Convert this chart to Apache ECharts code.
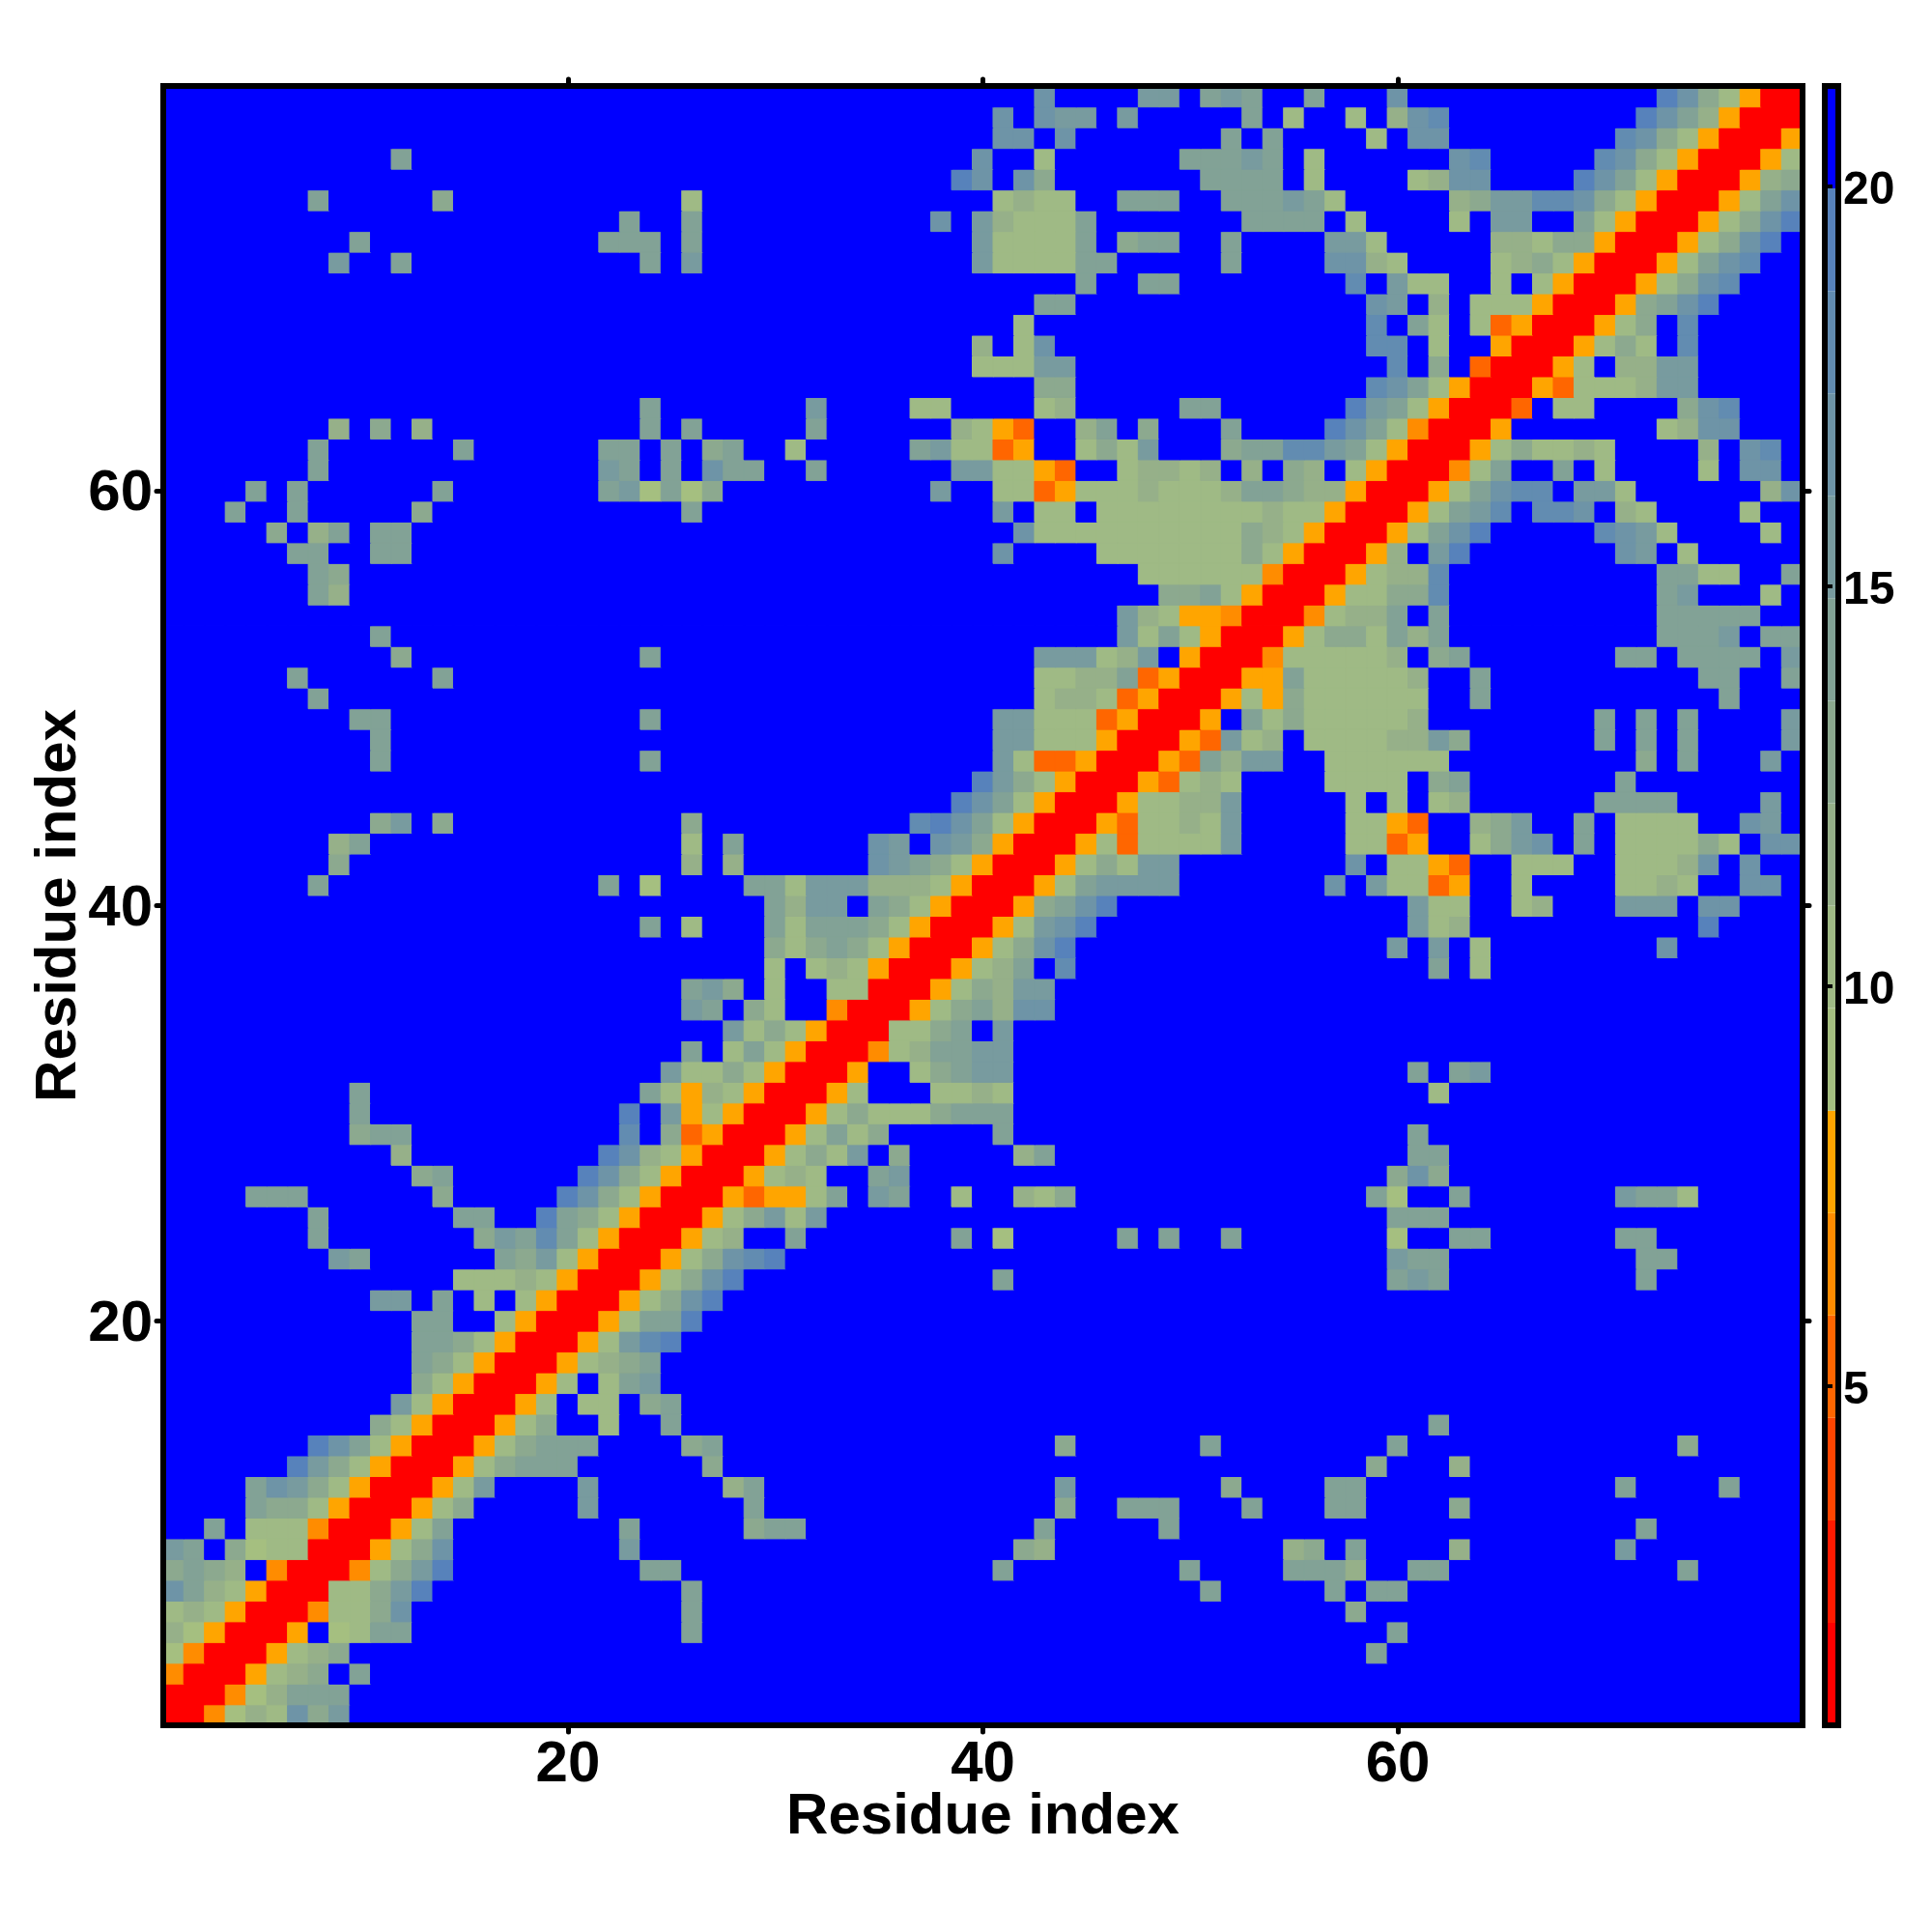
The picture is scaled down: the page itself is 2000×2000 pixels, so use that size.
<!DOCTYPE html>
<html>
<head>
<meta charset="utf-8">
<style>html,body{margin:0;padding:0;background:#fff}#c{width:2000px;height:2000px}</style>
<script src="https://cdn.jsdelivr.net/npm/echarts@6/dist/echarts.min.js"></script>
</head>
<body>
<div id="c"></div>
<script>
// Colour scale: 16 equal classes of residue distance
const scaleMin = 0.76;
const scaleStep = 1.281;
const levelColors = ['#ff0000','#ff1a00','#ff4500','#ff6600','#ff8c00','#ffa500','#a5bf80','#9fba85','#96b089','#8ca98f','#82a296','#789b9f','#6e94a7','#628cb1','#5782bb','#0000ff'];
// code letter of each class, in the same order
const levelCodes = '123456789abcdef.';
const residueCount = 79;
const tickResidues = [20, 40, 60];
const barTicks = [5, 10, 15, 20];
const axisTitle = 'Residue index';

// Upper triangle: [row, first column, class codes]
const upperTriangle = [
[1,1,'115798dac'],
[2,2,'11579bbb'],
[3,3,'11689a.b'],
[4,4,'11689a'],[4,59,'b'],
[5,5,'116.78bb'],[5,26,'b'],[5,60,'b'],
[6,6,'11588ad'],[6,26,'b'],[6,58,'a'],
[7,7,'1188acf'],[7,26,'b'],[7,51,'b'],[7,57,'b'],[7,59,'bb'],
[8,8,'1158acf'],[8,24,'bb'],[8,41,'b'],[8,50,'b'],[8,55,'bbb9'],[8,61,'bb'],[8,74,'b'],
[9,9,'1168ad'],[9,23,'c'],[9,42,'a9'],[9,55,'9a'],[9,58,'b'],[9,63,'9'],[9,71,'c'],
[10,10,'1168b'],[10,23,'b'],[10,29,'abb'],[10,43,'b'],[10,49,'b'],[10,72,'b'],
[11,11,'1168a'],[11,21,'c'],[11,29,'b'],[11,44,'a'],[11,47,'bbb'],[11,53,'b'],[11,57,'bb'],[11,63,'a'],
[12,12,'1168c'],[12,21,'c'],[12,28,'9b'],[12,44,'c'],[12,52,'a'],[12,57,'bb'],[12,71,'b'],[12,76,'b'],
[13,13,'1168abbb'],[13,27,'a'],[13,59,'a'],[13,63,'9'],
[14,14,'1168abbb'],[14,26,'ab'],[14,44,'a'],[14,51,'b'],[14,60,'b'],[14,74,'a'],
[15,15,'1168a..8..b'],[15,62,'b'],
[16,16,'1168.88.ab'],
[17,17,'1168.8bc'],
[18,18,'11689ab'],
[19,19,'1168cef'],
[20,20,'1168bbf'],
[21,21,'1168adf'],
[22,22,'1168adf'],[22,41,'b'],[22,60,'bcb'],[22,72,'b'],
[23,23,'1168adef'],[23,60,'cbb'],[23,72,'bb'],
[24,24,'11689..b'],[24,39,'b'],[24,41,'7'],[24,47,'b'],[24,49,'b'],[24,52,'b'],[24,60,'7'],[24,63,'bb'],[24,71,'bb'],
[25,25,'1168ac8c'],[25,60,'bbb'],
[26,26,'1164668b.cb'],[26,39,'8'],[26,42,'98a'],[26,59,'b7'],[26,63,'b'],[26,71,'cbb8'],
[27,27,'116898..bc'],[27,60,'ada'],
[28,28,'1168a8c.a'],[28,42,'9b'],[28,61,'bb'],
[29,29,'1168b8a'],[29,41,'b'],[29,61,'b'],
[30,30,'1168a888abbb'],
[31,31,'1168...8898'],[31,62,'8'],
[32,32,'116..8abcc'],[32,61,'b'],[32,63,'bc'],
[33,33,'11589bbcc'],
[34,34,'1188ab.c'],
[35,35,'1168ab9dd'],
[36,36,'1168a9cc'],
[37,37,'11689b.e'],[37,62,'b'],[37,64,'8'],
[38,38,'1168adf'],[38,60,'c'],[38,62,'c'],[38,64,'8'],[38,73,'d'],
[39,39,'1168cdf'],[39,61,'c89'],[39,75,'f'],
[40,40,'116abdf'],[40,61,'c88'],[40,66,'89'],[40,71,'ccc'],[40,75,'dd'],
[41,41,'1168bcccc'],[41,57,'d'],[41,59,'c8846'],[41,66,'8'],[41,71,'8898'],[41,77,'dd'],
[42,42,'1168a8cc'],[42,58,'d'],[42,60,'8864'],[42,66,'888'],[42,71,'8889d'],[42,77,'d'],
[43,43,'116848888c'],[43,58,'8846'],[43,64,'8acd'],[43,69,'b'],[43,71,'8888a8'],[43,78,'dd'],
[44,44,'11648898c'],[44,58,'8864'],[44,64,'9ac'],[44,69,'b'],[44,71,'8888'],[44,77,'dc'],
[45,45,'1168899c'],[45,58,'8'],[45,60,'8'],[45,62,'89'],[45,70,'bbbb'],[45,78,'c'],
[46,46,'1164898'],[46,57,'8888'],[46,62,'ab'],[46,71,'b'],
[47,47,'1164b9cc'],[47,57,'888888'],[47,72,'a'],[47,74,'b'],[47,78,'c'],
[48,48,'1164c89'],[48,56,'888899ca'],[48,70,'b'],[48,72,'b'],[48,74,'b'],[48,79,'c'],
[49,49,'116.b8a888889'],[49,70,'b'],[49,72,'b'],[49,74,'b'],[49,79,'c'],
[50,50,'11686a888888'],[50,64,'b'],[50,76,'b'],
[51,51,'1166b888889'],[51,64,'b'],[51,75,'bb'],[51,79,'b'],
[52,52,'115888889.ab'],[52,71,'bb'],[52,74,'bbbb'],[52,79,'c'],
[53,53,'1168aa8b9b'],[53,73,'bbbc'],[53,78,'bb'],
[54,54,'115899b.b'],[54,73,'bbbbb'],
[55,55,'11688aae'],[55,73,'bc'],[55,78,'8'],
[56,56,'116899e'],[56,73,'bb88'],[56,79,'b'],
[57,57,'1169.cf'],[57,71,'dc'],[57,74,'8'],
[58,58,'1168bdf'],[58,70,'edc8'],[58,78,'8'],
[59,59,'1168bce'],[59,67,'eed'],[59,71,'98'],[59,77,'8'],
[60,60,'1168bdee'],[60,69,'cc8'],[60,78,'9d'],
[61,61,'1158b'],[61,68,'b'],[61,70,'8'],[61,75,'8'],[61,77,'dd'],
[62,62,'1168a8898'],[62,75,'9'],[62,77,'de'],
[63,63,'116'],[63,73,'89dd'],
[64,64,'114'],[64,68,'88'],[64,74,'ade'],
[65,65,'11648889cc'],
[66,66,'1168.99cc'],
[67,67,'1168a8.e'],
[68,68,'1168a.e'],
[69,69,'116abdf'],
[70,70,'1168ade'],
[71,71,'1168bde'],
[72,72,'1168adf'],
[73,73,'1168adf'],
[74,74,'1168bd'],
[75,75,'1169a'],
[76,76,'1168'],
[77,77,'116'],
[78,78,'11'],
[79,79,'1']
];

// Each class stands for the mid value of its step on the colour bar
const levelValue = i => scaleMin + scaleStep * (i + 0.5);
const categories = Array.from({length: residueCount}, (_, i) => String(i + 1));

// Start every cell at the top class (blue), then apply the read rows and mirror them
const blueClass = levelCodes.length - 1;
const matrix = Array.from({length: residueCount}, () => new Array(residueCount).fill(blueClass));
upperTriangle.forEach(([row, first, codes]) => {
  [...codes].forEach((ch, k) => {
    const col = first + k;
    const cls = levelCodes.indexOf(ch);
    matrix[row - 1][col - 1] = cls;
    matrix[col - 1][row - 1] = cls;
  });
});
const cells = [];
matrix.forEach((r, y) => r.forEach((cls, x) => cells.push({
  value: [x, y, levelValue(cls)],
  itemStyle: {borderColor: levelColors[cls], borderWidth: 1}
})));

const pieces = levelColors.map((color, i) => ({
  gte: scaleMin + scaleStep * i,
  lt: scaleMin + scaleStep * (i + 1),
  color
}));
const barLevels = levelColors.map((color, i) => ({
  value: [0, scaleMin + scaleStep * i, scaleMin + scaleStep * (i + 1)],
  itemStyle: {color}
}));

const FONT = '"Liberation Sans", Arial, sans-serif';
const tickFilter = (i) => tickResidues.includes(i + 1);
const frame = () => ({show: true, onZero: false, lineStyle: {color: '#000', width: 6, cap: 'square'}});
const tick = () => ({show: true, alignWithLabel: true, interval: tickFilter, length: 7, lineStyle: {color: '#000', width: 5, cap: 'round'}});
const barMax = scaleMin + scaleStep * levelColors.length;

const chart = echarts.init(document.getElementById('c'), null, {renderer: 'canvas'});
chart.setOption({
  animation: false,
  backgroundColor: '#fff',
  grid: [
    {left: 169, top: 89, width: 1697, height: 1697, outerBoundsMode: 'none'},
    {left: 1889, top: 89, width: 14, height: 1697, outerBoundsMode: 'none'}
  ],
  visualMap: {show: false, type: 'piecewise', seriesIndex: 0, dimension: 2, pieces},
  xAxis: [
    {type: 'category', data: categories, gridIndex: 0, position: 'bottom', z: 10,
     axisLine: frame(), axisTick: tick(),
     axisLabel: {show: true, interval: tickFilter, color: '#000', fontFamily: FONT, fontWeight: 'bold', fontSize: 60, margin: 11},
     name: axisTitle, nameLocation: 'middle', nameGap: 65, nameMoveOverlap: false,
     nameTextStyle: {color: '#000', fontFamily: FONT, fontWeight: 'bold', fontSize: 60},
     splitLine: {show: false}},
    {type: 'category', data: categories, gridIndex: 0, position: 'top', z: 10,
     axisLine: frame(), axisTick: tick(),
     axisLabel: {show: false}, splitLine: {show: false}},
    {type: 'value', gridIndex: 1, min: 0, max: 1, show: false}
  ],
  yAxis: [
    {type: 'category', data: categories, gridIndex: 0, position: 'left', z: 10,
     axisLine: frame(), axisTick: tick(),
     axisLabel: {show: true, interval: tickFilter, color: '#000', fontFamily: FONT, fontWeight: 'bold', fontSize: 60, margin: 11, verticalAlign: 'top', lineHeight: 8},
     name: axisTitle, nameLocation: 'middle', nameGap: 78, nameRotate: 90, nameMoveOverlap: false,
     nameTextStyle: {color: '#000', fontFamily: FONT, fontWeight: 'bold', fontSize: 60},
     splitLine: {show: false}},
    {type: 'category', data: categories, gridIndex: 0, position: 'right', z: 10,
     axisLine: frame(), axisTick: tick(),
     axisLabel: {show: false}, splitLine: {show: false}},
    {type: 'value', gridIndex: 1, position: 'right', min: scaleMin, max: barMax,
     z: 10, axisLine: {show: false},
     axisTick: {show: true, length: 8, lineStyle: {color: '#000', width: 4}, customValues: barTicks},
     axisLabel: {show: true, color: '#000', fontFamily: FONT, fontWeight: 'bold', fontSize: 48, margin: 5, verticalAlign: 'top', lineHeight: 10, customValues: barTicks},
     splitLine: {show: false}}
  ],
  series: [
    {type: 'heatmap', xAxisIndex: 0, yAxisIndex: 0, data: cells},
    {type: 'custom', xAxisIndex: 2, yAxisIndex: 2, data: barLevels,
     encode: {x: 0, y: [1, 2]},
     renderItem(params, api) {
       const lo = api.coord([0, api.value(1)]);
       const hi = api.coord([1, api.value(2)]);
       return {type: 'rect', shape: {x: lo[0], y: hi[1], width: hi[0] - lo[0], height: lo[1] - hi[1]},
               style: {fill: api.visual('color')}};
     }, z: 3},
    {type: 'custom', xAxisIndex: 2, yAxisIndex: 2, data: [[0, scaleMin, barMax]],
     encode: {x: 0, y: [1, 2]},
     renderItem(params, api) {
       const lo = api.coord([0, api.value(1)]);
       const hi = api.coord([1, api.value(2)]);
       return {type: 'rect', shape: {x: lo[0], y: hi[1], width: hi[0] - lo[0], height: lo[1] - hi[1]},
               style: {fill: 'none', stroke: '#000', lineWidth: 6}};
     }, z: 5}
  ]
});
</script>
</body>
</html>
